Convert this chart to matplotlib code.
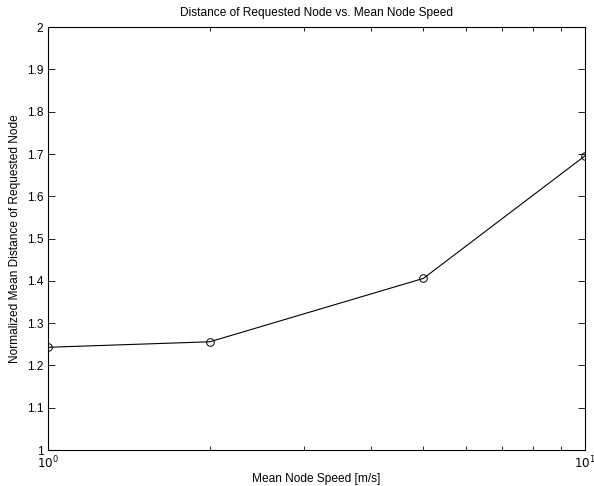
import matplotlib
matplotlib.use("Agg")
import matplotlib.pyplot as plt
from matplotlib.ticker import LogLocator

speed = [1, 2, 5, 10]
distance = [1.243, 1.256, 1.406, 1.696]
y_ticks = [1.0, 1.1, 1.2, 1.3, 1.4, 1.5, 1.6, 1.7, 1.8, 1.9, 2.0]
y_labels = ['1', '1.1', '1.2', '1.3', '1.4', '1.5', '1.6', '1.7', '1.8', '1.9', '2']

plt.rcParams['font.family'] = ['Liberation Sans', 'DejaVu Sans']
plt.rcParams['font.size'] = 8.6

fig = plt.figure(figsize=(5.94, 4.86), dpi=100)
ax = fig.add_axes([0.081, 0.074, 0.904, 0.870])

ax.plot(speed, distance, color='black', linewidth=0.8,
        marker='o', markersize=5.5, markerfacecolor='none', markeredgewidth=0.7)

ax.set_xscale('log')
ax.set_xlim(1, 10)
ax.set_ylim(1, 2)
ax.set_xticks([1, 10])
ax.set_xticklabels([r'$10^0$', r'$10^1$'])
ax.xaxis.set_minor_locator(LogLocator(base=10, subs=range(2, 10)))
ax.xaxis.set_minor_formatter(plt.NullFormatter())
ax.set_yticks(y_ticks)
ax.set_yticklabels(y_labels)

ax.tick_params(which='both', direction='in', top=True, right=True, width=0.6)
ax.tick_params(which='major', length=5, labelsize=8.6)
ax.tick_params(which='minor', length=3)
for s in ax.spines.values():
    s.set_linewidth(0.8)

ax.set_title("Distance of Requested Node vs. Mean Node Speed", fontsize=8.6, pad=8)
ax.set_xlabel("Mean Node Speed [m/s]", fontsize=8.6, labelpad=1)
ax.set_ylabel("Normalized Mean Distance of Requested Node", fontsize=8.6)

fig.savefig("out.png", dpi=100)
